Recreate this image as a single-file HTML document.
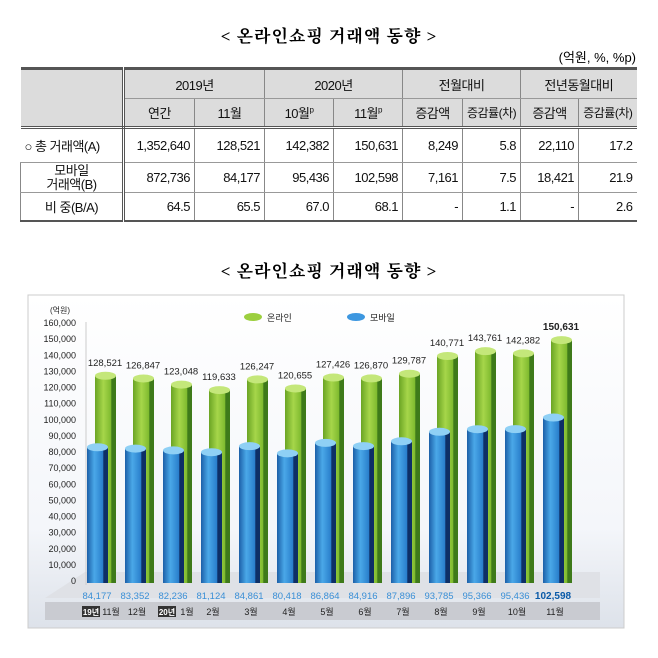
<!DOCTYPE html>
<html><head><meta charset="utf-8">
<style>
body{margin:0;width:658px;height:658px;background:#fff;font-family:"Liberation Sans","Noto Sans CJK KR",sans-serif;position:relative;overflow:hidden}
.title{position:absolute;left:0;width:658px;text-align:center;font-family:"Liberation Serif","Noto Serif CJK SC","Noto Sans CJK KR",serif;font-weight:bold;font-size:17px;letter-spacing:1px}
table{position:absolute;left:20px;top:67px;border-collapse:collapse;font-size:13px;color:#111;table-layout:fixed;width:616px}
td{padding:0 4px;text-align:right;border-left:1px solid #888;border-bottom:1px solid #999;white-space:nowrap;overflow:hidden;letter-spacing:-0.5px}
tr.h td{background:#dcdcdc;text-align:center}
td.l{text-align:left;border-left:none;background:#fff}
</style></head><body>
<div class="title" style="top:22px">&lt; 온라인쇼핑 거래액 동향 &gt;</div>
<div style="position:absolute;right:22px;top:47px;font-size:13px">(억원, %, %p)</div>
<table style="border-top:3px solid #555;border-bottom:2px solid #555">
<colgroup><col style="width:103px"><col style="width:71px"><col style="width:70px"><col style="width:69px"><col style="width:69px"><col style="width:60px"><col style="width:58px"><col style="width:58px"><col style="width:58px"></colgroup>
<tr class="h" style="height:30px"><td rowspan="2" style="background:#dcdcdc;border-left:none;border-right:3px double #555;border-bottom:3px double #555"></td><td colspan="2">2019년</td><td colspan="2">2020년</td><td colspan="2">전월대비</td><td colspan="2">전년동월대비</td></tr>
<tr class="h" style="border-bottom:3px double #555;height:29px"><td>연간</td><td>11월</td><td>10월<sup style="font-size:8px">p</sup></td><td>11월<sup style="font-size:8px">p</sup></td><td>증감액</td><td style="padding:0;font-size:12px">증감률(차)</td><td>증감액</td><td style="padding:0;font-size:12px">증감률(차)</td></tr>
<tr style="height:35px"><td class="l" style="border-right:3px double #555">○ 총 거래액(A)</td><td>1,352,640</td><td>128,521</td><td>142,382</td><td>150,631</td><td>8,249</td><td>5.8</td><td>22,110</td><td>17.2</td></tr>
<tr style="height:30px"><td class="l" style="border-right:3px double #555;text-align:center;line-height:14px;border-left:1px solid #888">모바일<br>거래액(B)</td><td>872,736</td><td>84,177</td><td>95,436</td><td>102,598</td><td>7,161</td><td>7.5</td><td>18,421</td><td>21.9</td></tr>
<tr style="height:28px"><td class="l" style="border-right:3px double #555;text-align:center;border-left:1px solid #888">비 중(B/A)</td><td>64.5</td><td>65.5</td><td>67.0</td><td>68.1</td><td>-</td><td>1.1</td><td>-</td><td>2.6</td></tr>
</table>
<div class="title" style="top:257px">&lt; 온라인쇼핑 거래액 동향 &gt;</div>
<svg id="chart" style="position:absolute;left:0;top:0" width="658" height="658">
<defs>
<linearGradient id="gb" x1="0" x2="1"><stop offset="0" stop-color="#1c5fa8"/><stop offset="0.35" stop-color="#4aa8e8"/><stop offset="0.75" stop-color="#2a7fcc"/><stop offset="0.8" stop-color="#0e2f66"/><stop offset="1" stop-color="#0e2f66"/></linearGradient>
<linearGradient id="gg" x1="0" x2="1"><stop offset="0" stop-color="#6aa424"/><stop offset="0.4" stop-color="#a6d64a"/><stop offset="0.75" stop-color="#80bb30"/><stop offset="0.8" stop-color="#3e7a1a"/><stop offset="1" stop-color="#3e7a1a"/></linearGradient>
<linearGradient id="bg" x1="0" y1="0" x2="0" y2="1"><stop offset="0" stop-color="#fff"/><stop offset="0.7" stop-color="#f4f6fa"/><stop offset="1" stop-color="#dde2ea"/></linearGradient>
</defs>
<rect x="28" y="295" width="596" height="333" fill="url(#bg)" stroke="#ccc"/>
<polygon points="45,598 85,572 600,572 600,598" fill="#dfe1e6"/>
<rect x="45" y="602" width="555" height="18" fill="#c9cbd1"/>
<line x1="86" y1="322" x2="86" y2="585" stroke="#ccc"/>
</svg>
<script>
const cats=["11월","12월","1월","2월","3월","4월","5월","6월","7월","8월","9월","10월","11월"];
const online=[128521,126847,123048,119633,126247,120655,127426,126870,129787,140771,143761,142382,150631];
const mobile=[84177,83352,82236,81124,84861,80418,86864,84916,87896,93785,95366,95436,102598];
const yTicks=[0,10000,20000,30000,40000,50000,60000,70000,80000,90000,100000,110000,120000,130000,140000,150000,160000];
const svg=document.getElementById('chart');const NS="http://www.w3.org/2000/svg";
const base=583,zero=580,k=258/160000;
const y=v=>base-v*k;
const n=cats.length;const x0=87,step=(543-87)/(n-1);
const x=i=>x0+i*step;
function mk(t,a,txt){const e=document.createElementNS(NS,t);for(const q in a)e.setAttribute(q,a[q]);if(txt!==undefined)e.textContent=txt;svg.appendChild(e);return e;}
yTicks.forEach(v=>{const e=mk('text',{x:76,y:zero-v*k+4,'text-anchor':'end','font-size':9,fill:'#222'},v.toLocaleString('en-US'));

});
const u=mk('text',{x:60,y:313,'text-anchor':'middle','font-size':8,fill:'#222'},'(억원)');


function bar(cx,v,fill,top,name){const w=21,t=y(v);
const g=document.createElementNS(NS,'g');svg.appendChild(g);


const r=document.createElementNS(NS,'rect');r.setAttribute('x',cx);r.setAttribute('y',t);r.setAttribute('width',w);r.setAttribute('height',base-t);r.setAttribute('fill',fill);g.appendChild(r);
const e=document.createElementNS(NS,'ellipse');e.setAttribute('cx',cx+w/2);e.setAttribute('cy',t);e.setAttribute('rx',w/2);e.setAttribute('ry',4);e.setAttribute('fill',top);g.appendChild(e);}
online.forEach((v,i)=>{bar(x(i)+8,v,'url(#gg)','#c4e77a','bar-online');
const t=mk('text',{x:x(i)+18,y:y(v)-10,'text-anchor':'middle','font-size':i==n-1?10:9.5,'font-weight':i==n-1?'bold':'normal',fill:'#222'},v.toLocaleString('en-US'));

});
mobile.forEach((v,i)=>{bar(x(i),v,'url(#gb)','#8fd0f5','bar-mobile');
const t=mk('text',{x:x(i)+10,y:599,'text-anchor':'middle','font-size':i==n-1?10:9.5,'font-weight':i==n-1?'bold':'normal',fill:i==n-1?'#0a5aa8':'#3a8fd6'},v.toLocaleString('en-US'));

});
cats.forEach((c,i)=>{const t=mk('text',{x:x(i)+(i==0||i==2?24:12),y:615,'text-anchor':'middle','font-size':9,fill:'#222'},c);

});
[[0,'19년'],[2,'20년']].forEach(([i,s])=>{mk('rect',{x:x(i)-5,y:606,width:18,height:11,fill:'#333'});
const t=mk('text',{x:x(i)+4,y:615,'text-anchor':'middle','font-size':8,'font-weight':'bold',fill:'#fff'},s);

});
[[253,'#9ccf3f','온라인'],[356,'#3d97e0','모바일']].forEach(([lx,c,s])=>{mk('ellipse',{cx:lx,cy:317,rx:9,ry:4,fill:c});
const t=mk('text',{x:lx+14,y:321,'font-size':9,fill:'#222'},s);

});
</script>
</body></html>
